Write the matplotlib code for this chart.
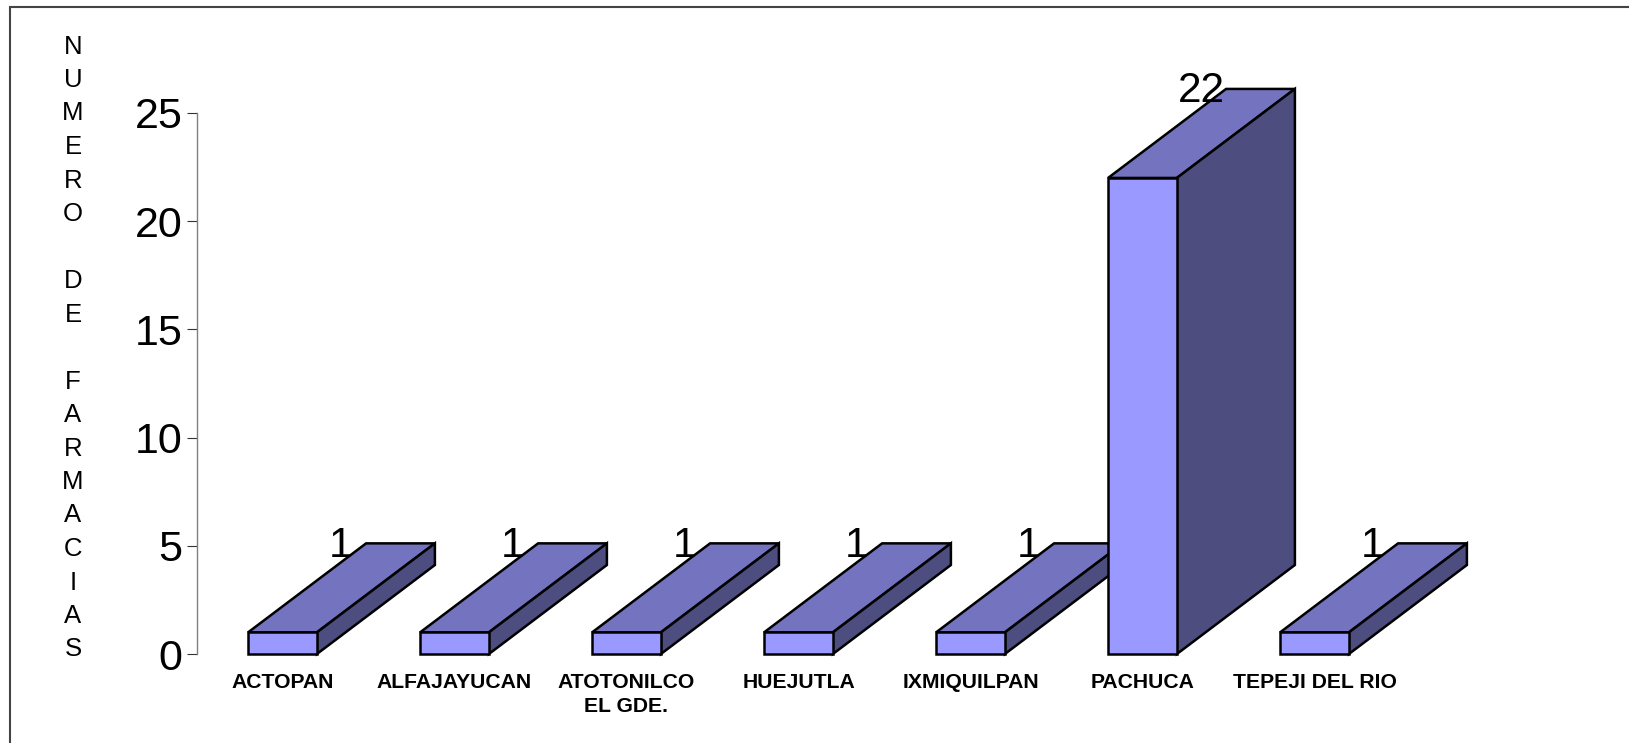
import numpy as np
import matplotlib
matplotlib.use('Agg')
import matplotlib.pyplot as plt
from matplotlib.patches import Polygon
from matplotlib.lines import Line2D

plt.rcParams['font.family'] = ['Liberation Sans', 'DejaVu Sans']

municipios = ['ACTOPAN', 'ALFAJAYUCAN', 'ATOTONILCO\nEL GDE.', 'HUEJUTLA',
              'IXMIQUILPAN', 'PACHUCA', 'TEPEJI DEL RIO']
farmacias = [1, 1, 1, 1, 1, 22, 1]
y_ticks = [0, 5, 10, 15, 20, 25]
y_title = 'N\nU\nM\nE\nR\nO\n\nD\nE\n\nF\nA\nR\nM\nA\nC\nI\nA\nS'

W, H = 1629, 743
# fake 3d depth of the bars, in data units
bar_w = 0.4
depth_x = 118 / 172
depth_y = 89 / 21.64
edge = 1.8

fig = plt.figure(figsize=(W / 100, H / 100), dpi=100)
ax = fig.add_axes([196.5 / W, 1 - 654 / H, 1204 / W, 541 / H])

pos = np.arange(len(municipios))
for i, v in zip(pos, farmacias):
    z = 3 + i
    x0, x1 = i - bar_w / 2, i + bar_w / 2
    front = ax.bar(i, v, bar_w, color='#9999FF', edgecolor='black', linewidth=edge, zorder=z + 0.2)
    front[0].set_clip_on(False)
    top = [(x0, v), (x1, v), (x1 + depth_x, v + depth_y), (x0 + depth_x, v + depth_y)]
    side = [(x1, 0), (x1 + depth_x, depth_y), (x1 + depth_x, v + depth_y), (x1, v)]
    ax.add_patch(Polygon(top, closed=True, facecolor='#7373BF', edgecolor='black',
                         linewidth=edge, joinstyle='miter', clip_on=False, zorder=z))
    ax.add_patch(Polygon(side, closed=True, facecolor='#4D4D80', edgecolor='black',
                         linewidth=edge, joinstyle='miter', clip_on=False, zorder=z))
    ax.text(i + 0.34, v + 3.5, str(v), ha='center', va='baseline', fontsize=30.5,
            zorder=20)

ax.set_xlim(-0.5, 6.5)
ax.set_ylim(0, 25)
ax.set_yticks(y_ticks)
ax.set_xticks(pos)
ax.set_xticklabels(municipios, fontsize=15.2, fontweight='bold', linespacing=1.3)
ax.tick_params(axis='x', length=0, pad=14)
ax.tick_params(axis='y', length=7.2, width=0.8, pad=3, labelsize=31, color='#333333')
for s in ['top', 'right', 'bottom']:
    ax.spines[s].set_visible(False)
ax.spines['left'].set_color('#808080')
ax.spines['left'].set_linewidth(1.0)
ax.patch.set_alpha(0)

fig.text(73 / W, 1 - 348 / H, y_title, ha='center', va='center', fontsize=18.5,
         linespacing=1.5)

# border of the slide, only top and left are inside the picture
fig.add_artist(Line2D([10 / W, 10 / W, 1], [0, 1 - 7 / H, 1 - 7 / H], color='#444444',
                      linewidth=1.5, solid_joinstyle='miter'))

fig.savefig('out.png', dpi=100)
